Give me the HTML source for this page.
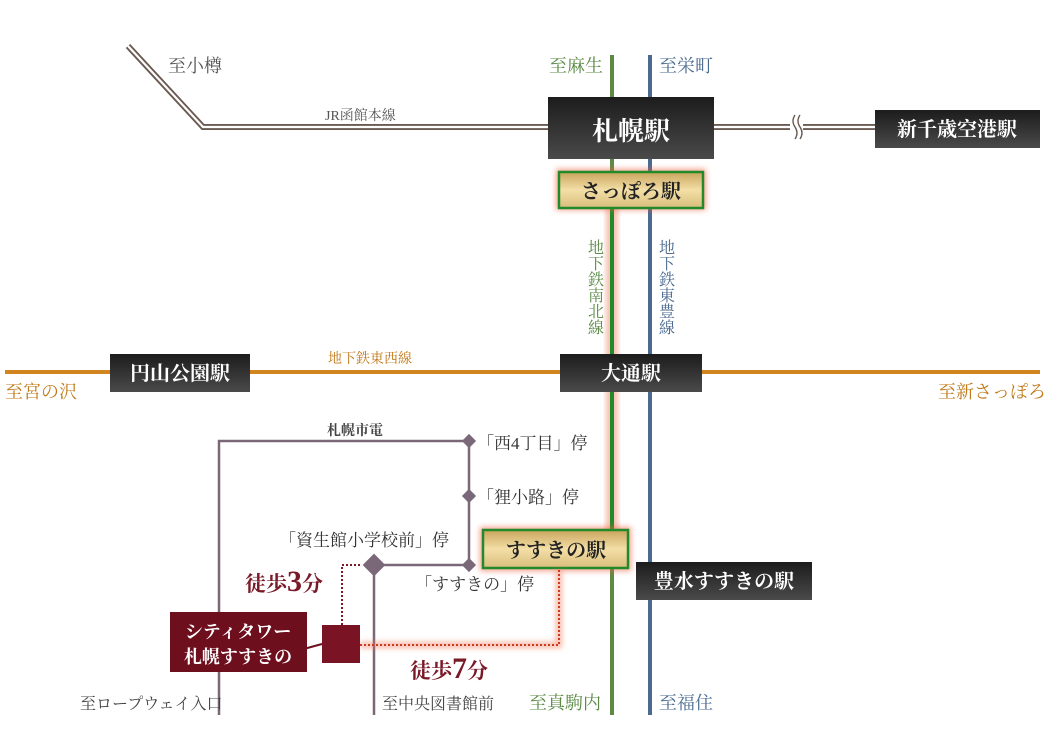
<!DOCTYPE html>
<html><head><meta charset="utf-8"><style>
body{margin:0;background:#fff}
svg{display:block}
text{font-family:"Liberation Serif","Noto Serif CJK SC","Noto Sans CJK JP",serif}
.b{font-weight:bold}
</style></head><body>
<svg width="1057" height="745" viewBox="0 0 1057 745" xmlns="http://www.w3.org/2000/svg">
<defs>
<linearGradient id="dk" x1="0" y1="0" x2="0" y2="1"><stop offset="0" stop-color="#1c1c1c"/><stop offset="1" stop-color="#4a4a4a"/></linearGradient>
<linearGradient id="gd" x1="0" y1="0" x2="0" y2="1"><stop offset="0" stop-color="#c9a45c"/><stop offset="0.5" stop-color="#f3dfa6"/><stop offset="1" stop-color="#d9bd7c"/></linearGradient>
<filter id="gl" x="-20%" y="-20%" width="140%" height="140%"><feGaussianBlur stdDeviation="3"/></filter>
</defs>
<!-- JR line -->
<polyline points="128,46 203,127 790,127" fill="none" stroke="#6a5a52" stroke-width="6"/>
<polyline points="128,46 203,127 790,127" fill="none" stroke="#fff" stroke-width="2.2"/>
<line x1="803" y1="127" x2="875" y2="127" stroke="#6a5a52" stroke-width="6"/>
<line x1="803" y1="127" x2="875" y2="127" stroke="#fff" stroke-width="2.2"/>
<path d="M795 115 q-4 6 0 12 q4 6 0 12" stroke="#6a5a52" fill="none" stroke-width="1.4"/>
<path d="M800 115 q-4 6 0 12 q4 6 0 12" stroke="#6a5a52" fill="none" stroke-width="1.4"/>
<text x="168" y="72" font-size="18" fill="#555">至小樽</text>
<text x="325" y="120" font-size="14" fill="#555">JR函館本線</text>
<!-- glow on green -->
<rect x="606" y="200" width="12" height="340" fill="#f08060" opacity="0.5" filter="url(#gl)"/>
<!-- subway lines -->
<line x1="612" y1="55" x2="612" y2="715" stroke="#5f8a45" stroke-width="4"/>
<line x1="612" y1="190" x2="612" y2="548" stroke="#238a2a" stroke-width="4"/>
<line x1="650" y1="55" x2="650" y2="715" stroke="#4a6a90" stroke-width="4"/>
<text x="549" y="72" font-size="18" fill="#5a8a45">至麻生</text>
<text x="659" y="72" font-size="18" fill="#4a6a90">至栄町</text>
<g font-size="16" fill="#5a8a45" text-anchor="middle">
<text x="596" y="253">地</text><text x="596" y="269">下</text><text x="596" y="285">鉄</text><text x="596" y="301">南</text><text x="596" y="317">北</text><text x="596" y="333">線</text></g>
<g font-size="16" fill="#4a6a90" text-anchor="middle">
<text x="667" y="253">地</text><text x="667" y="269">下</text><text x="667" y="285">鉄</text><text x="667" y="301">東</text><text x="667" y="317">豊</text><text x="667" y="333">線</text></g>
<!-- Tozai -->
<line x1="5" y1="372" x2="1040" y2="372" stroke="#d2841e" stroke-width="4"/>
<text x="5" y="398" font-size="18" fill="#c07818">至宮の沢</text>
<text x="938" y="398" font-size="18" fill="#c07818">至新さっぽろ</text>
<text x="370" y="363" font-size="14" fill="#c07818" text-anchor="middle">地下鉄東西線</text>
<!-- boxes -->
<rect x="548" y="97" width="166" height="62" fill="url(#dk)"/>
<text x="631" y="140" font-size="26" fill="#fff" text-anchor="middle" class="b">札幌駅</text>
<rect x="875" y="110" width="165" height="38" fill="url(#dk)"/>
<text x="957" y="136" font-size="20" fill="#fff" text-anchor="middle" class="b">新千歳空港駅</text>
<rect x="556" y="169" width="150" height="41" fill="#f06040" opacity="0.6" filter="url(#gl)"/>
<rect x="559" y="172" width="144" height="36" fill="url(#gd)" stroke="#238a2a" stroke-width="2.5"/>
<text x="631" y="198" font-size="20" fill="#222" text-anchor="middle" class="b">さっぽろ駅</text>
<rect x="110" y="354" width="140" height="38" fill="url(#dk)"/>
<text x="180" y="380" font-size="20" fill="#fff" text-anchor="middle" class="b">円山公園駅</text>
<rect x="560" y="354" width="142" height="38" fill="url(#dk)"/>
<text x="631" y="380" font-size="20" fill="#fff" text-anchor="middle" class="b">大通駅</text>
<!-- tram -->
<g stroke="#7a6878" stroke-width="2.5" fill="none">
<polyline points="219,715 219,441 469,441 469,565 374,565 374,715"/>
</g>
<g fill="#7a6878">
<rect x="464" y="436" width="10" height="10" transform="rotate(45 469 441)"/>
<rect x="464" y="491" width="10" height="10" transform="rotate(45 469 496)"/>
<rect x="464" y="560" width="10" height="10" transform="rotate(45 469 565)"/>
<rect x="366" y="557" width="16" height="16" transform="rotate(45 374 565)"/>
</g>
<text x="355" y="435" font-size="14" fill="#444" text-anchor="middle" class="b">札幌市電</text>
<text x="477" y="449" font-size="17" fill="#333">「西4丁目」停</text>
<text x="477" y="503" font-size="17" fill="#333">「狸小路」停</text>
<text x="279" y="546" font-size="17" fill="#333">「資生館小学校前」停</text>
<text x="415" y="590" font-size="17" fill="#333">「すすきの」停</text>
<!-- susukino -->
<rect x="480" y="527" width="151" height="44" fill="#f06040" opacity="0.6" filter="url(#gl)"/>
<rect x="483" y="530" width="145" height="38" fill="url(#gd)" stroke="#238a2a" stroke-width="2.5"/>
<text x="556" y="557" font-size="20" fill="#222" text-anchor="middle" class="b">すすきの駅</text>
<rect x="636" y="562" width="176" height="38" fill="url(#dk)"/>
<text x="724" y="588" font-size="20" fill="#fff" text-anchor="middle" class="b">豊水すすきの駅</text>
<!-- walk routes -->
<polyline points="342,625 342,565 362,565" fill="none" stroke="#7a1a28" stroke-width="2" stroke-dasharray="2,2"/>
<polyline points="360,645 559,645 559,570" fill="none" stroke="#f07050" stroke-width="6" opacity="0.5" filter="url(#gl)"/>
<polyline points="360,645 559,645 559,570" fill="none" stroke="#d03a20" stroke-width="2" stroke-dasharray="2,2"/>
<text x="245" y="591" font-size="21" fill="#7a1a28" class="b">徒歩<tspan font-size="30">3</tspan>分</text>
<text x="410" y="678" font-size="21" fill="#7a1a28" class="b">徒歩<tspan font-size="30">7</tspan>分</text>
<!-- tower -->
<line x1="300" y1="650" x2="322" y2="644" stroke="#6e0f1e" stroke-width="2"/>
<rect x="170" y="612" width="137" height="60" fill="#6e0f1e"/>
<text x="238" y="638" font-size="18" fill="#fff" text-anchor="middle" class="b">シティタワー</text>
<text x="238" y="663" font-size="18" fill="#fff" text-anchor="middle" class="b">札幌すすきの</text>
<rect x="322" y="625" width="38" height="38" fill="#7a1424"/>
<!-- bottom labels -->
<text x="80" y="709" font-size="16" fill="#444">至ロープウェイ入口</text>
<text x="382" y="709" font-size="16" fill="#444">至中央図書館前</text>
<text x="529" y="709" font-size="18" fill="#5a8a45">至真駒内</text>
<text x="659" y="709" font-size="18" fill="#4a6a90">至福住</text>
</svg>
</body></html>
